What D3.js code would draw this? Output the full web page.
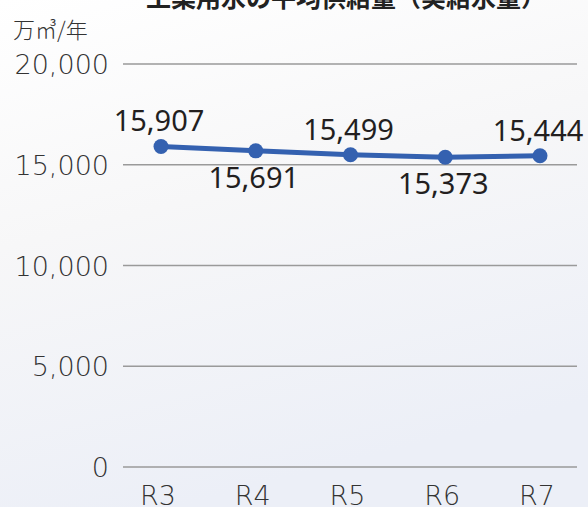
<!DOCTYPE html>
<meta charset="utf-8">
<style>
body {
  margin: 0;
  overflow: hidden;
}
svg {
  display: block;
  font-family: "Noto Sans CJK JP", "Noto Sans", sans-serif;
}
.grid line {
  stroke: #9a9a9a;
  stroke-width: 1.5px;
}
.tick-label {
  fill: #333;
  font-family: "DejaVu Sans", sans-serif;
  font-size: 27px;
  font-weight: 200;
}
.value-label {
  fill: #231f1f;
  font-family: "Noto Sans", sans-serif;
  font-size: 29px;
}
</style>
<body>
<script src="https://d3js.org/d3.v7.min.js"></script>
<script>
var width = 588,
    height = 507;

// data
var years = ["R3", "R4", "R5", "R6", "R7"];
var supply = [15907, 15691, 15499, 15373, 15444];
var yTicks = [0, 5000, 10000, 15000, 20000];
var labelAbove = [true, false, true, false, true];
var title = "工業用水の平均供給量（実給水量）";
var unit = "万㎥/年";

var svg = d3.select("body").append("svg")
  .attr("width", width)
  .attr("height", height);

var defs = svg.append("defs");
var grad = defs.append("linearGradient")
  .attr("id", "bg")
  .attr("x1", 0).attr("y1", 0).attr("x2", 0.3).attr("y2", 1);
grad.append("stop").attr("offset", "0%").attr("stop-color", "#ffffff");
grad.append("stop").attr("offset", "45%").attr("stop-color", "#f7f7f8");
grad.append("stop").attr("offset", "100%").attr("stop-color", "#eceff7");

svg.append("rect")
  .attr("width", width)
  .attr("height", height)
  .attr("fill", "url(#bg)");

var x = d3.scalePoint()
  .domain(years)
  .range([161, 540]);

var y = d3.scaleLinear()
  .domain([0, 20000])
  .range([467, 64]);

// title (cut off at top)
svg.append("text")
  .attr("x", 346)
  .attr("y", 7)
  .attr("text-anchor", "middle")
  .attr("font-size", 25)
  .attr("font-weight", "bold")
  .attr("fill", "#222")
  .text(title);

svg.append("text")
  .attr("x", 13)
  .attr("y", 38)
  .attr("font-size", 22)
  .attr("font-weight", 300)
  .attr("fill", "#333")
  .text(unit);

// grid
svg.append("g")
    .attr("class", "grid")
  .selectAll("line")
  .data(yTicks)
  .enter().append("line")
    .attr("x1", 123)
    .attr("x2", 577)
    .attr("y1", function(d) { return y(d); })
    .attr("y2", function(d) { return y(d); });

svg.append("g")
  .selectAll("text")
  .data(yTicks)
  .enter().append("text")
    .attr("class", "tick-label")
    .attr("x", 109)
    .attr("y", function(d) { return y(d) + 10; })
    .attr("text-anchor", "end")
    .text(function(d) { return d3.format(",")(d); });

svg.append("g")
  .selectAll("text")
  .data(years)
  .enter().append("text")
    .attr("class", "tick-label")
    .attr("x", function(d) { return x(d) - 3; })
    .attr("y", 505)
    .attr("text-anchor", "middle")
    .text(function(d) { return d; });

// line
var pts = years.map(function(d, i) { return {year: d, value: supply[i], above: labelAbove[i]}; });

svg.append("path")
  .datum(pts)
  .attr("fill", "none")
  .attr("stroke", "#3461b0")
  .attr("stroke-width", 5)
  .attr("d", d3.line()
    .x(function(d) { return x(d.year); })
    .y(function(d) { return y(d.value); }));

svg.append("g")
  .selectAll("circle")
  .data(pts)
  .enter().append("circle")
    .attr("cx", function(d) { return x(d.year); })
    .attr("cy", function(d) { return y(d.value); })
    .attr("r", 7.5)
    .attr("fill", "#3461b0");

svg.append("g")
  .selectAll("text")
  .data(pts)
  .enter().append("text")
    .attr("class", "value-label")
    .attr("x", function(d) { return x(d.year) - 2; })
    .attr("y", function(d) { return d.above ? y(d.value) - 15 : y(d.value) + 37; })
    .attr("text-anchor", "middle")
    .text(function(d) { return d3.format(",")(d.value); });
</script>
